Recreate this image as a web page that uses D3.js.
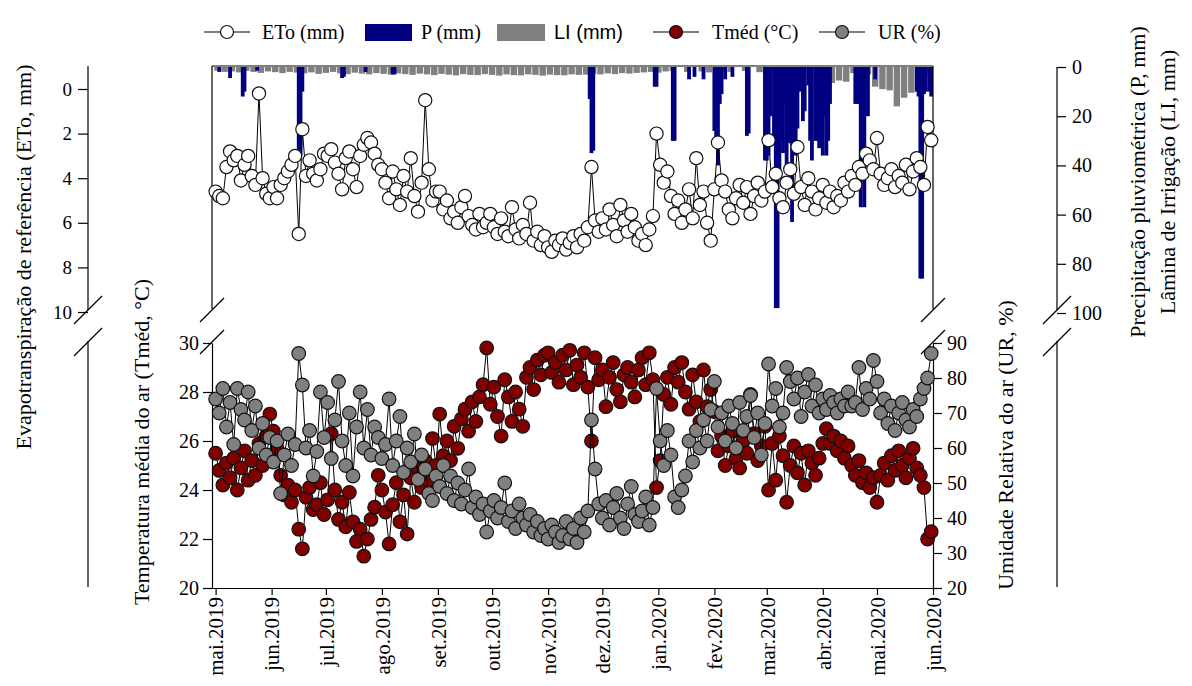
<!DOCTYPE html>
<html>
<head>
<meta charset="utf-8">
<script src="https://cdn.jsdelivr.net/npm/d3@7"></script>
<style>
  body { margin: 0; background: #fff; }
  text { font-family: "Liberation Serif", "Times New Roman", serif; fill: #000; }
</style>
</head>
<body>
<svg id="chart" width="1192" height="686"></svg>
<script>
// daily series sampled every 2 days, starting 1 May 2019
var etoVals = [
  4.6, 4.8, 4.9, 3.5, 2.8, 3.2, 3.0, 4.1, 3.4, 3.0, 3.9, 4.3, 0.2, 4.0, 4.7, 4.9,
  4.4, 4.9, 4.3, 4.0, 3.7, 3.4, 3.0, 6.5, 1.8, 3.9, 3.2, 3.8, 4.1, 3.6, 2.9,
  3.0, 2.7, 3.3, 3.8, 4.5, 3.1, 2.8, 3.6, 4.4, 3.0, 2.5, 2.2, 2.4, 2.9, 3.4,
  3.6, 4.2, 4.9, 3.7, 4.5, 5.2, 3.9, 4.6, 3.1, 4.8, 5.5, 4.2, 0.5, 3.6, 5.0, 4.6,
  4.6, 5.4, 5.0, 5.8, 5.5, 6.0, 5.3, 4.8, 5.7, 6.1, 6.3, 5.6, 6.2, 6.0, 5.6,
  6.2, 6.5, 5.8, 6.4, 6.6, 5.3, 6.3, 6.7, 6.1, 6.5, 5.1, 6.8, 6.4, 7.0, 6.6,
  7.1, 7.3, 6.8, 7.0, 6.7, 7.2, 6.9, 6.6, 7.1, 6.5, 6.8, 6.2, 3.5, 5.9, 6.4,
  5.8, 6.3, 5.4, 6.1, 6.6, 5.2, 5.9, 6.4, 5.6, 6.2, 6.8, 6.5, 7.0, 6.3, 5.7, 2.0,
  3.4, 4.2, 3.7, 4.8, 5.6, 5.0, 6.0, 5.4, 4.5, 5.8, 3.1, 5.2, 4.6, 6.0, 6.8,
  4.5, 2.4, 4.1, 4.6, 5.4, 5.8, 4.9, 4.3, 5.1, 4.4, 5.6, 4.8, 4.2, 5.0, 4.6,
  2.3, 4.4, 3.8, 4.9, 5.3, 4.2, 3.6, 4.7, 2.6, 4.4, 5.2, 4.0, 4.6, 5.4, 4.9, 4.3,
  5.1, 4.6, 5.3, 4.8, 5.0, 4.2, 4.6, 3.9, 4.3, 3.5, 3.8, 2.9, 3.2, 3.6, 2.2,
  3.8, 4.3, 4.0, 3.6, 4.4, 3.9, 4.2, 3.4, 4.5, 3.7, 3.1, 3.5, 4.3, 1.7, 2.3
];
var tmedVals = [
  25.5, 24.8, 24.2, 25.1, 24.5, 25.3, 24.0, 24.9, 25.6, 24.4, 25.2, 24.6, 25.9, 25.0, 26.2, 27.1,
  26.4, 25.7, 24.6, 23.8, 24.2, 23.5, 24.0, 22.4, 21.6, 23.7, 24.1, 23.2, 23.4, 24.3, 23.0,
  23.6, 26.3, 24.0, 22.8, 23.5, 22.5, 23.9, 22.7, 21.9, 22.4, 21.3, 22.0, 22.8, 23.3, 24.6,
  24.0, 23.1, 21.8, 23.4, 24.3, 22.7, 23.8, 22.2, 24.5, 23.5, 24.9, 24.1, 25.2, 24.4, 26.1, 25.0,
  27.1, 25.4, 26.0, 25.2, 26.6, 25.7, 26.9, 27.3, 26.4, 27.6, 26.8, 27.8, 28.3, 29.8, 27.5,
  28.2, 27.0, 26.2, 28.5, 27.8, 26.8, 28.0, 27.3, 26.6, 28.6, 29.0, 28.1, 29.3, 28.7, 29.5,
  29.6, 28.8, 29.2, 28.4, 29.5, 28.9, 29.7, 28.3, 29.1, 28.6, 29.6, 28.2, 26.0, 29.4, 28.5,
  28.9, 27.4, 28.6, 29.2, 28.1, 27.6, 28.7, 29.0, 28.4, 27.8, 28.9, 29.4, 28.3, 29.6, 28.5, 24.1,
  25.2, 27.9, 28.6, 27.5, 29.0, 28.4, 29.2, 28.0, 27.3, 28.7, 27.6, 26.8, 28.9, 27.4, 28.1,
  27.2, 25.6, 26.2, 25.0, 25.8, 26.4, 25.3, 24.9, 26.0, 25.5, 27.9, 26.3, 25.2, 25.8, 26.6,
  24.0, 25.9, 24.4, 26.2, 25.4, 23.5, 25.0, 25.8, 24.7, 25.5, 24.2, 25.6, 25.1, 24.6, 25.3, 25.9,
  26.5, 25.9, 26.2, 25.6, 26.0, 25.3, 25.8, 25.0, 24.6, 25.2, 24.3, 24.7, 24.1, 24.5, 23.5,
  24.6, 25.1, 24.4, 25.4, 24.8, 25.6, 25.0, 24.5, 25.3, 25.7, 24.9, 24.6, 24.1, 22.0, 22.3
];
var urVals = [
  74, 70, 77, 66, 73, 61, 77, 71, 68, 76, 65, 72, 60, 67, 58, 63,
  56, 62, 47, 58, 64, 55, 61, 87, 78, 60, 65, 52, 59, 76, 63,
  73, 57, 68, 79, 62, 55, 70, 52, 66, 76, 60, 71, 58, 66, 63,
  57, 61, 74, 55, 62, 69, 53, 60, 56, 64, 51, 58, 54, 47, 45, 52,
  49, 55, 47, 52, 45, 50, 44, 48, 54, 43, 46, 41, 44, 36, 42,
  45, 40, 43, 50, 39, 42, 37, 44, 40, 38, 41, 36, 39, 35, 37,
  34, 38, 36, 33, 35, 39, 34, 37, 33, 40, 36, 42, 68, 54, 44,
  40, 45, 38, 43, 47, 40, 37, 44, 49, 41, 39, 42, 46, 38, 43, 77,
  62, 55, 65, 58, 46, 43, 48, 52, 62, 56, 65, 60, 68, 62, 71,
  79, 66, 70, 62, 72, 67, 60, 73, 65, 69, 75, 63, 70, 58, 67,
  84, 72, 77, 66, 70, 83, 79, 74, 80, 69, 76, 81, 72, 78, 70, 74,
  71, 75, 73, 70, 74, 72, 76, 72, 73, 83, 71, 77, 74, 85, 79,
  70, 74, 67, 72, 65, 70, 73, 68, 66, 71, 69, 74, 77, 80, 87
];
// rain events: [day since 1 May 2019, mm]
var rainEvents = [
  [2, 2], [8, 4.5], [15, 12], [16, 10], [23, 1.5], [46, 37], [47, 36], [48, 10],
  [70, 4.5], [71, 4], [83, 2], [98, 3], [99, 3], [207, 13], [208, 35], [209, 34],
  [243, 8], [244, 8], [253, 30], [254, 30], [262, 5], [265, 4], [270, 5],
  [276, 26], [277, 30], [278, 40], [279, 15], [280, 11], [282, 5], [286, 4], [294, 28], [295, 27],
  [304, 38], [305, 38], [306, 36], [307, 20], [309, 30], [310, 98], [311, 98], [312, 45],
  [313, 30], [314, 35], [315, 15], [316, 40], [317, 30], [318, 31], [319, 63], [320, 30],
  [321, 36], [322, 25], [323, 10], [325, 22], [326, 18], [328, 7.5], [329, 30], [330, 38],
  [332, 30], [333, 30], [334, 33], [335, 28], [336, 36], [337, 20], [338, 36], [339, 30], [340, 15],
  [354, 15], [355, 15], [357, 57], [358, 40], [359, 57], [361, 20], [365, 5],
  [388, 10], [389, 12], [390, 86], [391, 86], [392, 11], [393, 10], [395, 10], [396, 12]
];
// irrigation every 4 days, starting 2 May 2019
var irrigVals = [
  1.5, 2.0, 1.8, 2.2, 1.6, 2.0, 2.4, 1.8, 2.1, 2.5, 2.0, 2.3,
  2.6, 2.2, 2.8, 2.4, 2.0, 2.6, 2.9, 2.3, 2.7, 3.0, 2.5, 2.8,
  3.1, 2.6, 2.9, 3.2, 2.7, 3.0, 3.3, 2.8, 3.1, 3.4, 2.9, 3.2,
  3.3, 2.9, 3.2, 3.5, 3.0, 3.3, 3.4, 3.0, 3.2, 3.5, 3.1, 3.3,
  3.4, 3.0, 3.2, 3.1, 2.8, 3.0, 2.6, 2.9, 2.5, 2.7, 2.4, 2.2,
  2.0, 2.3, 1.8,
  1.5, 0, 2.0, 0, 1.8, 2.2, 0, 1.5, 2.0, 0, 1.6, 0, 2.1, 1.8, 0, 1.5, 2.0, 0, 1.7, 2.2, 0, 1.8,
  6.5, 5.5, 6.0, 2.5, 2.0, 3.0, 8.0, 9.0, 9.5, 16.0, 12.5, 10.5, 5.0, 3.0, 2.0
];
var monthLabels = ['mai.2019', 'jun.2019', 'jul.2019', 'ago.2019', 'set.2019', 'out.2019',
  'nov.2019', 'dez.2019', 'jan.2020', 'fev.2020', 'mar.2020', 'abr.2020', 'mai.2020', 'jun.2020'];
var etoTicks = [0, 2, 4, 6, 8, 10];
var tmedTicks = [20, 22, 24, 26, 28, 30];
var urTicks = [20, 30, 40, 50, 60, 70, 80, 90];
var rainTicks = [0, 20, 40, 60, 80, 100];

function dayDate(d) { return new Date(2019, 4, 1 + d); }

var eto = etoVals.map(function (v, i) { return { date: dayDate(2 * i), v: v }; });
var tmed = tmedVals.map(function (v, i) { return { date: dayDate(2 * i), v: v }; });
var ur = urVals.map(function (v, i) { return { date: dayDate(2 * i), v: v }; });
var rain = rainEvents.map(function (d) { return { date: dayDate(d[0]), v: d[1] }; });
var irrig = irrigVals.map(function (v, i) { return { date: dayDate(1 + 4 * i), v: v }; });
var monthDates = monthLabels.map(function (m, i) { return new Date(2019, 4 + i, 1); });

var svg = d3.select('svg#chart');

var x = d3.scaleTime()
  .domain([new Date(2019, 3, 29), new Date(2020, 5, 1)])
  .range([212, 933]);
var yEto = d3.scaleLinear().domain([0, 10]).range([89, 312]);
var yRain = d3.scaleLinear().domain([0, 100]).range([67, 313]);
var yTmed = d3.scaleLinear().domain([20, 30]).range([588, 343]);
var yUr = d3.scaleLinear().domain([20, 90]).range([588, 343]);

var defs = svg.append('defs');
defs.append('clipPath').attr('id', 'topclip')
  .append('rect').attr('x', 212).attr('y', 66).attr('width', 721).attr('height', 250);

// bars (top panel)
var bars = svg.append('g').attr('clip-path', 'url(#topclip)');
bars.selectAll('rect.li')
  .data(irrig)
  .enter()
  .append('rect')
    .attr('class', 'li')
    .attr('x', function (d) { return x(d.date) - 3.2; })
    .attr('y', yRain(0))
    .attr('width', 6.4)
    .attr('height', function (d) { return yRain(d.v) - yRain(0); })
    .style('fill', '#808080');
bars.selectAll('rect.p')
  .data(rain)
  .enter()
  .append('rect')
    .attr('class', 'p')
    .attr('x', function (d) { return x(d.date) - 1.9; })
    .attr('y', yRain(0))
    .attr('width', 3.8)
    .attr('height', function (d) { return yRain(d.v) - yRain(0); })
    .style('fill', '#000080');

// frames and axis lines
function vline(xp, y1, y2) {
  svg.append('line')
    .attr('x1', xp).attr('x2', xp).attr('y1', y1).attr('y2', y2)
    .style('stroke', 'black').style('stroke-width', 1.2);
}
function slash(cx, cy, w) {
  svg.append('line')
    .attr('x1', cx - w).attr('y1', cy + w)
    .attr('x2', cx + w).attr('y2', cy - w)
    .style('stroke', 'black').style('stroke-width', 1.2);
}
svg.append('line')
  .attr('x1', 212).attr('x2', 933).attr('y1', 66).attr('y2', 66)
  .style('stroke', 'black').style('stroke-width', 1.2);
vline(212, 66, 309);
vline(933, 66, 309);
vline(88, 66, 310);
vline(88, 341, 587);
vline(1057, 67, 310);
vline(1057, 341, 587);
[88, 212, 933, 1057].forEach(function (xp) {
  var w = (xp === 212 || xp === 933) ? 12 : 14;
  slash(xp, 310, w);
  slash(xp, 342, w);
});

function styleAxis(g, family, size) {
  g.attr('font-family', family).attr('font-size', size);
  g.selectAll('line').style('stroke', 'black').style('stroke-width', 1.2);
  g.selectAll('path').style('stroke', 'black').style('stroke-width', 1.2);
  g.selectAll('text').style('fill', 'black');
}

var etoAxis = svg.append('g')
  .attr('transform', 'translate(88,0)')
  .call(d3.axisLeft(yEto).tickValues(etoTicks).tickSize(10).tickPadding(6));
etoAxis.select('.domain').remove();
styleAxis(etoAxis, '"Liberation Sans", Arial, sans-serif', 19);

var rainAxis = svg.append('g')
  .attr('transform', 'translate(1057,0)')
  .call(d3.axisRight(yRain).tickValues(rainTicks).tickSize(9).tickPadding(6));
rainAxis.select('.domain').remove();
styleAxis(rainAxis, '"Liberation Serif", "Times New Roman", serif', 20);

var tmedAxis = svg.append('g')
  .attr('transform', 'translate(212,0)')
  .call(d3.axisLeft(yTmed).tickValues(tmedTicks).tickSize(9).tickSizeOuter(0).tickPadding(4));
styleAxis(tmedAxis, '"Liberation Serif", "Times New Roman", serif', 20);

var urAxis = svg.append('g')
  .attr('transform', 'translate(933,0)')
  .call(d3.axisRight(yUr).tickValues(urTicks).tickSize(9).tickSizeOuter(0).tickPadding(5));
styleAxis(urAxis, '"Liberation Serif", "Times New Roman", serif', 20);

var xAxis = svg.append('g')
  .attr('transform', 'translate(0,588)')
  .call(d3.axisBottom(x).tickValues(monthDates).tickSize(7).tickSizeOuter(0)
    .tickFormat(function (d, i) { return monthLabels[i]; }));
styleAxis(xAxis, '"Liberation Serif", "Times New Roman", serif', 21);
xAxis.selectAll('text')
  .attr('transform', 'rotate(-90)')
  .attr('text-anchor', 'end')
  .attr('x', -9)
  .attr('y', 0)
  .attr('dy', '0.35em');

// series
function drawSeries(data, yScale, fill, r) {
  var line = d3.line()
    .x(function (d) { return x(d.date); })
    .y(function (d) { return yScale(d.v); });
  svg.append('path')
    .datum(data)
    .attr('d', line)
    .style('fill', 'none')
    .style('stroke', 'black')
    .style('stroke-width', 1);
  svg.append('g').selectAll('circle')
    .data(data)
    .enter()
    .append('circle')
      .attr('cx', function (d) { return x(d.date); })
      .attr('cy', function (d) { return yScale(d.v); })
      .attr('r', r)
      .style('fill', fill)
      .style('stroke', '#111')
      .style('stroke-width', 1.2);
}
drawSeries(eto, yEto, 'white', 6.6);
drawSeries(tmed, yTmed, '#800000', 6.8);
drawSeries(ur, yUr, '#808080', 6.8);

// axis titles
var titles = [
  { t: 'Evapotranspiração de referência (ETo, mm)', x: 31, y: 257 },
  { t: 'Temperatura média do ar (Tméd, °C)', x: 149, y: 442 },
  { t: 'Umidade Relativa do ar (UR, %)', x: 1013, y: 445 },
  { t: 'Precipitação pluviométrica (P, mm)', x: 1145, y: 182 },
  { t: 'Lâmina de Irrigação (LI, mm)', x: 1175, y: 182 }
];
svg.selectAll('text.title')
  .data(titles)
  .enter()
  .append('text')
    .attr('class', 'title')
    .attr('transform', function (d) { return 'translate(' + d.x + ',' + d.y + ') rotate(-90)'; })
    .attr('text-anchor', 'middle')
    .style('font-size', '22px')
    .text(function (d) { return d.t; });

// legend
var legend = svg.append('g').attr('transform', 'translate(0,32)');
function legendMarker(x0, fill) {
  legend.append('line').attr('x1', x0).attr('x2', x0 + 46).attr('y1', 0).attr('y2', 0)
    .style('stroke', 'black').style('stroke-width', 1.2);
  legend.append('circle').attr('cx', x0 + 23).attr('cy', 0).attr('r', 6.5)
    .style('fill', fill).style('stroke', '#111').style('stroke-width', 1.2);
}
legendMarker(204, 'white');
legendMarker(653, '#800000');
legendMarker(819, '#808080');
legend.append('rect').attr('x', 365).attr('y', -8).attr('width', 47).attr('height', 17).style('fill', '#000080');
legend.append('rect').attr('x', 497).attr('y', -8).attr('width', 48).attr('height', 17).style('fill', '#808080');
var legendItems = [
  { t: 'ETo (mm)', x: 262, f: null },
  { t: 'P (mm)', x: 421, f: null },
  { t: 'LI (mm)', x: 554, f: '"Liberation Sans", Arial, sans-serif' },
  { t: 'Tméd (°C)', x: 712, f: null },
  { t: 'UR (%)', x: 878, f: null }
];
legend.selectAll('text')
  .data(legendItems)
  .enter()
  .append('text')
    .attr('x', function (d) { return d.x; })
    .attr('y', 0)
    .attr('dy', '0.35em')
    .style('font-size', '20px')
    .style('font-family', function (d) { return d.f; })
    .text(function (d) { return d.t; });
</script>
</body>
</html>
